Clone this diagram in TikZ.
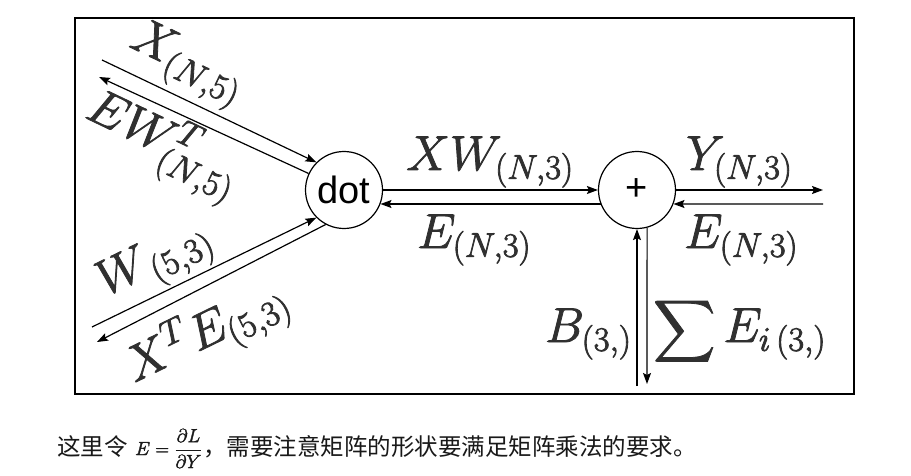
\RequirePackage{fix-cm}
\documentclass[tikz,border=0pt]{standalone}
\usepackage{amsmath}
\usepackage{fontspec}
\DeclareFontShape{OMX}{cmex}{m}{n}{<->cmex10}{}
\newfontfamily\cjk{Noto Sans CJK SC}
\newfontfamily\lsans{Liberation Sans}
\usetikzlibrary{arrows.meta}
\definecolor{lblc}{HTML}{303030}
\newcommand{\heavytx}{\special{pdf:literal direct 2 Tr 0.8 w}}
\newcommand{\semitx}{\special{pdf:literal direct 2 Tr 0.35 w}}
\newcommand{\plaintx}{\special{pdf:literal direct 0 Tr}}
\begin{document}
\begin{tikzpicture}[x=1pt,y=-1pt,
  arr/.style={line width=1.2pt,-{Stealth[length=11pt,width=8pt,inset=2pt]}},
  circ/.style={circle,draw,line width=1.2pt,minimum size=77pt,inner sep=0pt,font=\lsans\fontsize{38}{40}\selectfont\plaintx},
  lbl/.style={text=lblc,font=\fontsize{49}{52}\selectfont\heavytx,inner sep=0pt},
  rlbl/.style={lbl,font=\fontsize{50}{54}\selectfont\heavytx},
  captxt/.style={anchor=base west,inner sep=0pt,text=black!90,font=\cjk\fontsize{23.5}{26}\selectfont\plaintx}]
\useasboundingbox[fill=white] (0,0) rectangle (911,476);
\draw[line width=2pt] (75,18) rectangle (854,394);
\node[circ] (dot) at (344,190) {dot};
\node[circ] (plus) at (637,190) {+};
\coordinate (xin) at (102,60);
\coordinate (ewout) at (99,77);
\coordinate (win) at (92,327);
\coordinate (xeout) at (97,342);
\coordinate (yout) at (823,190);
\coordinate (ein) at (823,204);
\coordinate (bin) at (637,386);
\coordinate (bout) at (647,384);
\draw[arr] (xin) -- (dot.135);
\draw[arr] (dot.155) -- (ewout);
\draw[arr] (win) -- (dot.225);
\draw[arr] (dot.242) -- (xeout);
\draw[arr] (dot.east) -- (plus.west);
\draw[arr] (plus.201) -- (dot.339);
\draw[arr] (plus.east) -- (yout);
\draw[arr] (ein) -- (plus.-21);
\draw[arr] (bin) -- (plus.south);
\draw[arr] (plus.-75) -- (bout);
\node[rlbl,rotate=-25.6] (lx) at (186,65) {$X_{(N,5)}$};
\node[rlbl,rotate=-25.6] (lew) at (162,145) {$EW^{T}_{(N,5)}$};
\node[rlbl,rotate=26] (lw) at (156,263) {$W_{\,(5,3)}$};
\node[rlbl,rotate=26] (lxe) at (207,334) {$X^{T}E_{(5,3)}$};
\node[lbl,anchor=base west] (lxw) at (406,170) {$XW_{(N,3)}$};
\node[lbl,anchor=base west] (le1) at (417,248) {$E_{(N,3)}$};
\node[lbl,anchor=base west] (ly) at (686,170) {$Y_{(N,3)}$};
\node[lbl,anchor=base west] (le2) at (684,248) {$E_{(N,3)}$};
\node[lbl,anchor=base west] (lb) at (545,342) {$B_{(3,)}$};
\node[lbl,anchor=base west] (ls) at (653,342) {{\fontsize{43}{46}\selectfont$\displaystyle\sum$}\,$E_{i\,(3,)}$};
\node[captxt] (cap1) at (57,455) {这里令};
\node[captxt,font=\fontsize{19}{21}\selectfont\semitx] (capm) at (135,455) {$E=\dfrac{\partial L}{\partial Y}$};
\node[captxt] (cap2) at (203,455) {，需要注意矩阵的形状要满足矩阵乘法的要求。};
\end{tikzpicture}
\end{document}
